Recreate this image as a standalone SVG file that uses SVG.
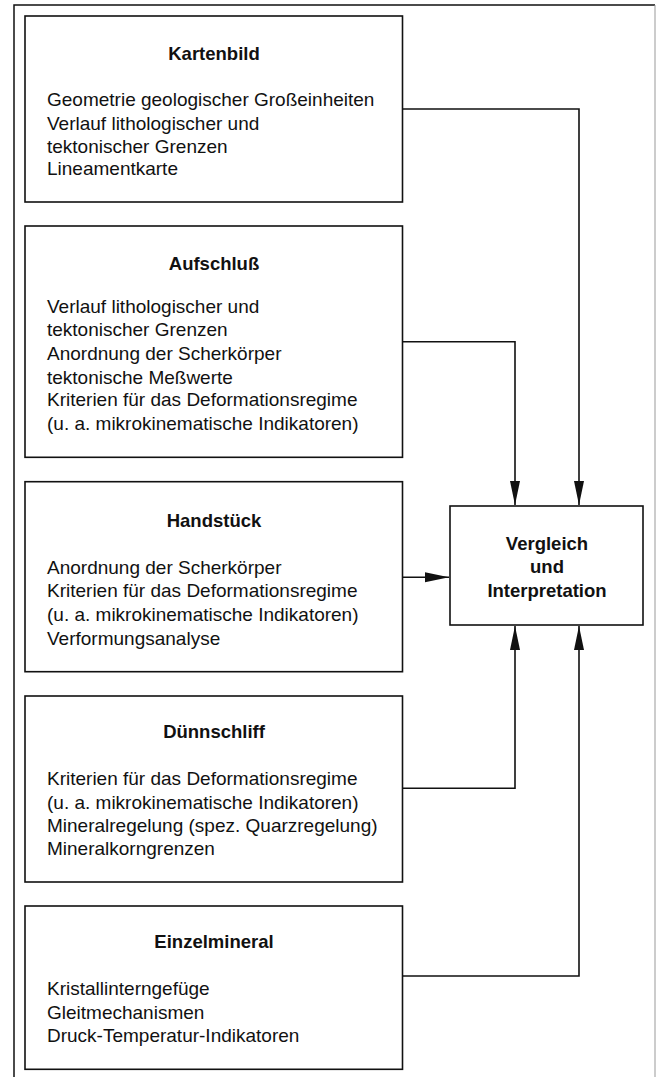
<svg xmlns="http://www.w3.org/2000/svg" width="657" height="1077" viewBox="0 0 657 1077">
<defs>
<style>
.box{fill:#fff;stroke:#111;stroke-width:1.6}
.t{font-family:"Liberation Sans",Arial,sans-serif;font-size:19px;fill:#111}
.h{font-family:"Liberation Sans",Arial,sans-serif;font-size:18.5px;font-weight:bold;fill:#111;text-anchor:middle}
.c{fill:none;stroke:#111;stroke-width:1.6}
</style>
<marker id="ah" markerUnits="userSpaceOnUse" markerWidth="26" markerHeight="12" refX="24" refY="5" orient="auto">
<path d="M0,0 L24,5 L0,10 Z" fill="#111"/>
</marker>
</defs>
<rect width="657" height="1077" fill="#fff"/>
<g id="frame">
<path d="M14,1077 V5 H655" fill="none" stroke="#111" stroke-width="1.5"/>
<path d="M655,5 V1077" fill="none" stroke="#999" stroke-width="1"/>
</g>
<g id="connectors">
<path class="c" d="M402.5,109 H579 V505" marker-end="url(#ah)"/>
<path class="c" d="M402.5,341.7 H515 V505" marker-end="url(#ah)"/>
<path class="c" d="M402.5,577.3 H449" marker-end="url(#ah)"/>
<path class="c" d="M402.5,788.3 H515 V626" marker-end="url(#ah)"/>
<path class="c" d="M402.5,976 H579 V626" marker-end="url(#ah)"/>
</g>
<g id="kartenbild">
<rect class="box" x="25" y="16" width="377.5" height="186"/>
<text class="h" x="214" y="60">Kartenbild</text>
<text class="t" x="47" y="106">Geometrie geologischer Großeinheiten</text>
<text class="t" x="47" y="129.5">Verlauf lithologischer und</text>
<text class="t" x="47" y="152.5">tektonischer Grenzen</text>
<text class="t" x="47" y="175">Lineamentkarte</text>
</g>
<g id="aufschluss">
<rect class="box" x="25" y="226" width="377.5" height="231.3"/>
<text class="h" x="214" y="270">Aufschluß</text>
<text class="t" x="47" y="313">Verlauf lithologischer und</text>
<text class="t" x="47" y="336.3">tektonischer Grenzen</text>
<text class="t" x="47" y="359.6">Anordnung der Scherkörper</text>
<text class="t" x="47" y="383.5">tektonische Meßwerte</text>
<text class="t" x="47" y="406">Kriterien für das Deformationsregime</text>
<text class="t" x="47" y="429.5">(u. a. mikrokinematische Indikatoren)</text>
</g>
<g id="handstueck">
<rect class="box" x="25" y="481.7" width="377.5" height="190"/>
<text class="h" x="214" y="526.5">Handstück</text>
<text class="t" x="47" y="573.5">Anordnung der Scherkörper</text>
<text class="t" x="47" y="597">Kriterien für das Deformationsregime</text>
<text class="t" x="47" y="620.5">(u. a. mikrokinematische Indikatoren)</text>
<text class="t" x="47" y="644.5">Verformungsanalyse</text>
</g>
<g id="vergleich">
<rect class="box" x="450" y="506" width="193" height="119"/>
<text class="h" x="547" y="549.5">Vergleich</text>
<text class="h" x="547" y="572.5">und</text>
<text class="h" x="547" y="596.5">Interpretation</text>
</g>
<g id="duennschliff">
<rect class="box" x="25" y="696" width="377.5" height="186"/>
<text class="h" x="214" y="738">Dünnschliff</text>
<text class="t" x="47" y="784.5">Kriterien für das Deformationsregime</text>
<text class="t" x="47" y="808.5">(u. a. mikrokinematische Indikatoren)</text>
<text class="t" x="47" y="832">Mineralregelung (spez. Quarzregelung)</text>
<text class="t" x="47" y="854.5">Mineralkorngrenzen</text>
</g>
<g id="einzelmineral">
<rect class="box" x="25" y="906" width="377.5" height="163.3"/>
<text class="h" x="214" y="948">Einzelmineral</text>
<text class="t" x="47" y="994.5">Kristallinterngefüge</text>
<text class="t" x="47" y="1018.5">Gleitmechanismen</text>
<text class="t" x="47" y="1041.5">Druck-Temperatur-Indikatoren</text>
</g>
</svg>
